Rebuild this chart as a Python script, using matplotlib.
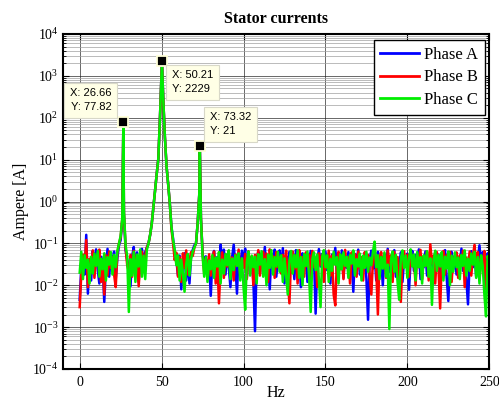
import numpy as np
import matplotlib
matplotlib.use("Agg")
import matplotlib.pyplot as plt
from matplotlib.ticker import LogLocator, NullFormatter, FixedLocator

# frequency bins (Hz) and the three marked peaks
freq_bins = list(range(0, 251))
peak_freq = [26.66, 50.21, 73.32]
peak_amp = [77.82, 2229, 21]

# amplitude spectra (A), one value per 1 Hz bin
phase_a = [
    0.0045, 0.028, 0.052, 0.018, 0.16, 0.0063, 0.041, 0.013, 0.066, 0.031,
    0.072, 0.024, 0.011, 0.048, 0.035, 0.004, 0.027, 0.074, 0.016, 0.052,
    0.038, 0.064, 0.014, 0.045, 0.09, 0.12, 0.35, 0.5, 0.07, 0.04,
    0.026, 0.0095, 0.048, 0.082, 0.019, 0.061, 0.012, 0.055, 0.074, 0.03,
    0.062, 0.08, 0.1, 0.16, 0.3, 0.75, 1.8, 4.5, 10.5, 100,
    1250, 280, 35, 7, 2.6, 0.9, 0.25, 0.13, 0.06, 0.04,
    0.017, 0.051, 0.008, 0.034, 0.058, 0.013, 0.043, 0.011, 0.052, 0.07,
    0.09, 0.1, 0.3, 1.5, 0.4, 0.06, 0.028, 0.049, 0.016, 0.038,
    0.0056, 0.041, 0.066, 0.022, 0.047, 0.012, 0.093, 0.036, 0.071, 0.018,
    0.054, 0.027, 0.009, 0.046, 0.093, 0.031, 0.0063, 0.058, 0.024, 0.067,
    0.038, 0.075, 0.015, 0.052, 0.026, 0.043, 0.013, 0.0008, 0.036, 0.064,
    0.019, 0.055, 0.031, 0.082, 0.021, 0.044, 0.008, 0.057, 0.034, 0.071,
    0.016, 0.042, 0.068, 0.025, 0.077, 0.011, 0.049, 0.029, 0.063, 0.02,
    0.051, 0.014, 0.069, 0.032, 0.046, 0.009, 0.058, 0.027, 0.053, 0.012,
    0.039, 0.066, 0.024, 0.048, 0.0021, 0.037, 0.073, 0.028, 0.056, 0.017,
    0.064, 0.023, 0.047, 0.011, 0.054, 0.033, 0.078, 0.019, 0.041, 0.029,
    0.068, 0.015, 0.052, 0.026, 0.062, 0.021, 0.045, 0.007, 0.056, 0.032,
    0.071, 0.018, 0.046, 0.027, 0.059, 0.014, 0.0015, 0.043, 0.067, 0.025,
    0.051, 0.013, 0.063, 0.034, 0.048, 0.01, 0.055, 0.028, 0.074, 0.021,
    0.049, 0.031, 0.069, 0.016, 0.044, 0.026, 0.061, 0.012, 0.042, 0.033,
    0.057, 0.0078, 0.039, 0.066, 0.022, 0.053, 0.029, 0.072, 0.014, 0.046,
    0.027, 0.064, 0.017, 0.051, 0.032, 0.045, 0.011, 0.062, 0.036, 0.054,
    0.019, 0.047, 0.028, 0.069, 0.015, 0.0042, 0.041, 0.063, 0.024, 0.052,
    0.018, 0.046, 0.03, 0.075, 0.022, 0.053, 0.013, 0.0035, 0.038, 0.065,
    0.027, 0.055, 0.016, 0.044, 0.09, 0.029, 0.062, 0.012, 0.041, 0.058,
    0.03,
]

phase_b = [
    0.003, 0.019, 0.054, 0.027, 0.12, 0.009, 0.043, 0.022, 0.068, 0.015,
    0.049, 0.031, 0.071, 0.012, 0.038, 0.006, 0.052, 0.017, 0.064, 0.026,
    0.047, 0.018, 0.009, 0.061, 0.1, 0.14, 0.4, 0.55, 0.08, 0.03,
    0.021, 0.053, 0.016, 0.066, 0.028, 0.049, 0.0095, 0.037, 0.063, 0.024,
    0.051, 0.08, 0.1, 0.16, 0.3, 0.75, 1.8, 4.5, 10.5, 100,
    1250, 280, 35, 7, 2.6, 0.9, 0.22, 0.1, 0.04, 0.06,
    0.016, 0.047, 0.012, 0.058, 0.026, 0.068, 0.018, 0.039, 0.062, 0.05,
    0.08, 0.1, 0.3, 1.5, 0.4, 0.06, 0.019, 0.042, 0.024, 0.055,
    0.017, 0.039, 0.064, 0.011, 0.043, 0.0037, 0.029, 0.061, 0.015, 0.052,
    0.028, 0.067, 0.021, 0.046, 0.013, 0.054, 0.032, 0.071, 0.018, 0.041,
    0.026, 0.056, 0.014, 0.065, 0.029, 0.048, 0.01, 0.053, 0.033, 0.069,
    0.017, 0.044, 0.063, 0.022, 0.057, 0.012, 0.072, 0.031, 0.049, 0.015,
    0.062, 0.027, 0.046, 0.019, 0.053, 0.03, 0.067, 0.014, 0.0037, 0.042,
    0.064, 0.025, 0.051, 0.011, 0.069, 0.032, 0.047, 0.016, 0.061, 0.028,
    0.054, 0.013, 0.066, 0.027, 0.043, 0.009, 0.058, 0.031, 0.052, 0.012,
    0.045, 0.026, 0.067, 0.017, 0.051, 0.006, 0.0033, 0.04, 0.063, 0.024,
    0.049, 0.014, 0.07, 0.028, 0.046, 0.011, 0.061, 0.033, 0.055, 0.016,
    0.064, 0.025, 0.047, 0.013, 0.062, 0.029, 0.053, 0.017, 0.006, 0.041,
    0.066, 0.024, 0.002, 0.044, 0.062, 0.027, 0.05, 0.015, 0.068, 0.03,
    0.052, 0.012, 0.063, 0.026, 0.047, 0.018, 0.004, 0.039, 0.065, 0.028,
    0.054, 0.016, 0.067, 0.031, 0.045, 0.01, 0.052, 0.027, 0.07, 0.014,
    0.049, 0.029, 0.064, 0.013, 0.095, 0.033, 0.051, 0.011, 0.062, 0.024,
    0.0028, 0.041, 0.066, 0.018, 0.053, 0.027, 0.063, 0.012, 0.046, 0.031,
    0.061, 0.015, 0.052, 0.029, 0.067, 0.009, 0.045, 0.026, 0.064, 0.017,
    0.051, 0.092, 0.028, 0.062, 0.013, 0.048, 0.03, 0.066, 0.008, 0.039,
    0.03,
]

phase_c = [
    0.02, 0.063, 0.014, 0.052, 0.026, 0.041, 0.011, 0.048, 0.019, 0.057,
    0.029, 0.066, 0.016, 0.043, 0.024, 0.058, 0.013, 0.047, 0.031, 0.062,
    0.018, 0.053, 0.027, 0.064, 0.1, 0.15, 0.4, 0.6, 0.09, 0.05,
    0.0023, 0.042, 0.017, 0.063, 0.012, 0.054, 0.028, 0.072, 0.016, 0.051,
    0.014, 0.07, 0.1, 0.16, 0.3, 0.75, 1.8, 4.5, 10.5, 100,
    1250, 280, 35, 7, 2.6, 0.9, 0.25, 0.12, 0.07, 0.03,
    0.052, 0.013, 0.041, 0.019, 0.007, 0.032, 0.056, 0.017, 0.043, 0.064,
    0.08, 0.1, 0.3, 1.5, 0.4, 0.05, 0.016, 0.047, 0.012, 0.039,
    0.024, 0.053, 0.015, 0.046, 0.028, 0.062, 0.011, 0.041, 0.019, 0.056,
    0.03, 0.068, 0.014, 0.043, 0.023, 0.052, 0.029, 0.058, 0.013, 0.044,
    0.009, 0.0026, 0.036, 0.064, 0.017, 0.051, 0.027, 0.048, 0.011, 0.055,
    0.031, 0.065, 0.016, 0.042, 0.01, 0.054, 0.026, 0.069, 0.018, 0.047,
    0.028, 0.063, 0.021, 0.052, 0.012, 0.044, 0.017, 0.006, 0.039, 0.066,
    0.019, 0.053, 0.027, 0.068, 0.015, 0.047, 0.01, 0.056, 0.029, 0.064,
    0.016, 0.0023, 0.042, 0.061, 0.023, 0.054, 0.014, 0.003, 0.048, 0.069,
    0.027, 0.052, 0.012, 0.043, 0.022, 0.063, 0.031, 0.047, 0.011, 0.055,
    0.024, 0.061, 0.029, 0.048, 0.015, 0.053, 0.033, 0.068, 0.017, 0.042,
    0.028, 0.057, 0.013, 0.051, 0.026, 0.063, 0.021, 0.046, 0.03, 0.064,
    0.11, 0.027, 0.052, 0.014, 0.047, 0.025, 0.061, 0.016, 0.031, 0.0009,
    0.042, 0.064, 0.021, 0.053, 0.012, 0.0045, 0.043, 0.068, 0.026, 0.051,
    0.015, 0.046, 0.072, 0.028, 0.054, 0.013, 0.062, 0.027, 0.047, 0.011,
    0.052, 0.029, 0.065, 0.016, 0.044, 0.0034, 0.041, 0.067, 0.022, 0.053,
    0.028, 0.062, 0.013, 0.048, 0.025, 0.064, 0.01, 0.051, 0.021, 0.061,
    0.027, 0.046, 0.014, 0.053, 0.029, 0.068, 0.017, 0.043, 0.022, 0.057,
    0.031, 0.063, 0.015, 0.047, 0.011, 0.052, 0.028, 0.006, 0.0018, 0.05,
    0.03,
]

series_names = ["Phase A", "Phase B", "Phase C"]
series_colors = ["#0000ff", "#ff0000", "#00ee00"]

plt.rcParams["font.family"] = "Liberation Serif"
plt.rcParams["mathtext.fontset"] = "custom"
plt.rcParams["mathtext.rm"] = "Liberation Serif"


def with_peaks(values):
    # slot the three marked peak bins in between the integer bins
    f = np.array(freq_bins, dtype=float)
    v = np.array(values, dtype=float)
    for pf, pa in zip(peak_freq, peak_amp):
        idx = np.searchsorted(f, pf)
        f = np.insert(f, idx, pf)
        v = np.insert(v, idx, pa)
    return f, v


fig = plt.figure(figsize=(4.99, 4.07), dpi=100)
ax = fig.add_axes([63.3 / 499, 1 - 369 / 407, 426 / 499, 335 / 407])

for vals, name, col in zip([phase_a, phase_b, phase_c], series_names, series_colors):
    f, v = with_peaks(vals)
    ax.plot(f, v, color=col, lw=1.8, label=name)

ax.set_yscale("log")
ax.set_xlim(-10, 250)
ax.set_ylim(1e-4, 1e4)
ax.xaxis.set_major_locator(FixedLocator([0, 50, 100, 150, 200, 250]))
ax.yaxis.set_major_locator(LogLocator(base=10, numticks=20))
ax.yaxis.set_minor_locator(LogLocator(base=10, subs=np.arange(2, 10), numticks=20))
ax.yaxis.set_minor_formatter(NullFormatter())

ax.grid(True, which="major", color="#222222", lw=0.6, ls="-", alpha=0.8)
ax.grid(True, which="minor", axis="y", color="#a0a0a0", lw=0.5, ls="-")
ax.tick_params(which="both", direction="in", top=True, right=True, labelsize=10)
ax.tick_params(which="major", length=4, width=0.8)
ax.tick_params(which="minor", length=2, width=0.6)
ax.tick_params(axis="x", pad=5)
for s in ax.spines.values():
    s.set_linewidth(1.5)

ax.set_title("Stator currents", fontsize=11.5, fontweight="bold", pad=8)
ax.set_xlabel("Hz", fontsize=11.5, labelpad=-3)
ax.set_ylabel("Ampere [A]", fontsize=11.5, labelpad=2)

leg = ax.legend(loc="upper right", bbox_to_anchor=(0.990, 0.982), borderaxespad=0,
                fontsize=12, handlelength=2.3, handletextpad=0.35,
                labelspacing=0.4, borderpad=0.4, fancybox=False, framealpha=1)
leg.get_frame().set_edgecolor("black")
leg.get_frame().set_linewidth(1.0)
for ln in leg.get_lines():
    ln.set_linewidth(2)

# data tips on the three peaks (green trace)
tip_offsets = [(-12, 10, "right", "bottom"), (10, -9, "left", "top"), (10, 10, "left", "bottom")]
for pf, pa, (dx, dy, ha, va) in zip(peak_freq, peak_amp, tip_offsets):
    ax.plot([pf], [pa], marker="s", ms=7, mfc="black", mec="#ffffd8", mew=1.3, zorder=5)
    ax.annotate(f"X: {pf:.2f}\nY: {pa:.4g}", xy=(pf, pa), xytext=(dx, dy),
                textcoords="offset pixels", ha=ha, va=va, fontsize=8,
                family="Liberation Sans", linespacing=1.5, zorder=6,
                bbox=dict(boxstyle="square,pad=0.5", fc="#ffffe6", ec="#d8d8c8", lw=0.8))

fig.savefig("out.png", dpi=100, facecolor="white")
